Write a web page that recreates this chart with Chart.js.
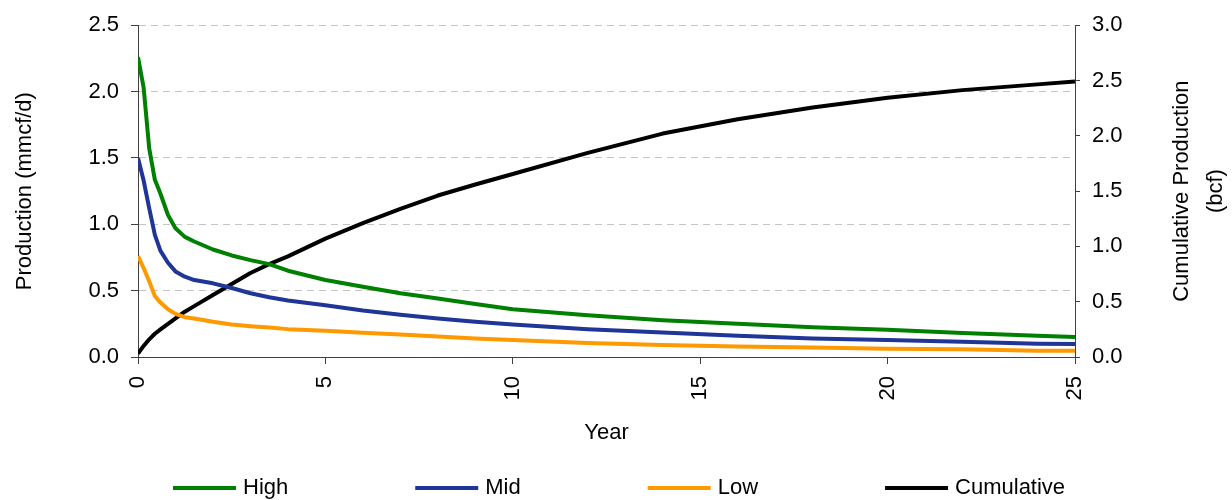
<!DOCTYPE html>
<html>
<head>
<meta charset="utf-8">
<script src="https://cdn.jsdelivr.net/npm/chart.js@4.4.0/dist/chart.umd.min.js"></script>
<style>
    html, body { margin: 0; padding: 0; background: #fff; }
    #wrap { width: 1232px; height: 500px; }
</style>
</head>
<body>
<div id="wrap"><canvas id="chart"></canvas></div>
<script>
// years on the x axis
const years = [0, 0.15, 0.3, 0.45, 0.6, 0.8, 1, 1.25, 1.5, 2, 2.5, 3, 3.5, 4, 5, 6, 7, 8, 9, 10, 12, 14, 16, 18, 20, 22, 24, 25];

// production rates, mmcf/d (left axis)
const high = [2.26, 2.03, 1.57, 1.335, 1.23, 1.07, 0.97, 0.905, 0.87, 0.81, 0.765, 0.73, 0.70, 0.65, 0.58, 0.53, 0.48, 0.44, 0.40, 0.36, 0.315, 0.277, 0.25, 0.225, 0.205, 0.18, 0.16, 0.15];
const mid = [1.50, 1.33, 1.12, 0.92, 0.80, 0.71, 0.645, 0.605, 0.58, 0.555, 0.52, 0.48, 0.45, 0.425, 0.39, 0.35, 0.318, 0.29, 0.265, 0.245, 0.21, 0.185, 0.16, 0.14, 0.128, 0.115, 0.10, 0.098];
const low = [0.76, 0.67, 0.57, 0.46, 0.41, 0.36, 0.325, 0.30, 0.29, 0.265, 0.245, 0.232, 0.222, 0.21, 0.198, 0.182, 0.17, 0.155, 0.14, 0.128, 0.105, 0.09, 0.08, 0.072, 0.062, 0.058, 0.048, 0.047];

// cumulative production, bcf (right axis)
const cumulative = [0.03, 0.10, 0.16, 0.21, 0.25, 0.30, 0.35, 0.41, 0.46, 0.56, 0.66, 0.76, 0.84, 0.91, 1.07, 1.21, 1.34, 1.46, 1.56, 1.655, 1.845, 2.02, 2.15, 2.255, 2.345, 2.413, 2.465, 2.49];

const xTicks = [0, 5, 10, 15, 20, 25];
const leftTicks = [0, 0.5, 1.0, 1.5, 2.0, 2.5];
const rightTicks = [0, 0.5, 1.0, 1.5, 2.0, 2.5, 3.0];

const FONT = 'Liberation Sans, Arial, sans-serif';
const AXIS = '#404040';

function points(values) {
    return years.map((x, i) => ({x: x, y: values[i]}));
}

function series(label, color, values, axis) {
    return {
        label: label,
        data: points(values),
        borderColor: color,
        backgroundColor: color,
        borderWidth: 4,
        pointRadius: 0,
        tension: 0,
        borderJoinStyle: 'round',
        yAxisID: axis,
    };
}

// right axis title reads bottom-to-top like the left one
const rightTitle = {
    id: 'rightTitle',
    afterDraw(chart) {
        const ctx = chart.ctx;
        const area = chart.chartArea;
        const cy = (area.top + area.bottom) / 2;
        ctx.save();
        ctx.fillStyle = '#000';
        ctx.font = '22px ' + FONT;
        ctx.textAlign = 'center';
        ctx.textBaseline = 'middle';
        [['Cumulative Production', 1182], ['(bcf)', 1216]].forEach(([text, x]) => {
            ctx.save();
            ctx.translate(x, cy);
            ctx.rotate(-Math.PI / 2);
            ctx.fillText(text, 0, 0);
            ctx.restore();
        });
        ctx.restore();
    }
};

// legend spread across the bottom
const wideLegend = {
    id: 'wideLegend',
    afterDraw(chart) {
        const ctx = chart.ctx;
        const y = 488;
        let x = 173;
        ctx.save();
        ctx.font = '22px ' + FONT;
        ctx.textBaseline = 'middle';
        ctx.textAlign = 'left';
        chart.data.datasets.forEach(ds => {
            ctx.strokeStyle = ds.borderColor;
            ctx.lineWidth = 4;
            ctx.beginPath();
            ctx.moveTo(x, y);
            ctx.lineTo(x + 63, y);
            ctx.stroke();
            ctx.fillStyle = '#000';
            ctx.fillText(ds.label, x + 70, y);
            x += 70 + ctx.measureText(ds.label).width + 127;
        });
        ctx.restore();
    }
};

const config = {
    type: 'line',
    data: {
        datasets: [
            series('High', '#008000', high, 'yLeft'),
            series('Mid', '#1f3597', mid, 'yLeft'),
            series('Low', '#ff9900', low, 'yLeft'),
            series('Cumulative', '#000000', cumulative, 'yRight'),
        ]
    },
    options: {
        responsive: true,
        maintainAspectRatio: false,
        animation: false,
        layout: {padding: {top: 12, bottom: 54, left: 0, right: 0}},
        plugins: {
            legend: {display: false},
            tooltip: {enabled: false},
        },
        scales: {
            x: {
                type: 'linear',
                min: 0,
                max: 25,
                afterBuildTicks: scale => { scale.ticks = xTicks.map(v => ({value: v})); },
                afterFit: scale => { scale.height = 89; },
                grid: {drawOnChartArea: false, tickLength: 7, tickColor: AXIS},
                border: {color: AXIS, width: 1},
                ticks: {
                    color: '#000',
                    font: {family: FONT, size: 22},
                    minRotation: 90,
                    maxRotation: 90,
                    padding: 12,
                    autoSkip: false,
                },
                title: {
                    display: true,
                    text: 'Year',
                    color: '#000',
                    font: {family: FONT, size: 22},
                    padding: 0,
                },
            },
            yLeft: {
                type: 'linear',
                position: 'left',
                min: 0,
                max: 2.5,
                afterBuildTicks: scale => { scale.ticks = leftTicks.map(v => ({value: v})); },
                afterFit: scale => { scale.width = 138; },
                grid: {
                    color: '#c4c4c4',
                    tickColor: AXIS,
                    tickLength: 7,
                    tickBorderDash: [],
                },
                border: {color: AXIS, width: 1, dash: [7, 5]},
                ticks: {
                    color: '#000',
                    font: {family: FONT, size: 22},
                    padding: 12,
                    callback: v => v.toFixed(1),
                },
                title: {
                    display: true,
                    text: 'Production (mmcf/d)',
                    color: '#000',
                    font: {family: FONT, size: 22},
                    padding: {top: 12, bottom: 0},
                },
            },
            yRight: {
                type: 'linear',
                position: 'right',
                min: 0,
                max: 3,
                afterBuildTicks: scale => { scale.ticks = rightTicks.map(v => ({value: v})); },
                afterFit: scale => { scale.width = 157; },
                grid: {drawOnChartArea: false, tickColor: AXIS, tickLength: 5},
                border: {color: AXIS, width: 1},
                ticks: {
                    color: '#000',
                    font: {family: FONT, size: 22},
                    padding: 12,
                    callback: v => v.toFixed(1),
                },
            },
        }
    },
    plugins: [rightTitle, wideLegend],
};

new Chart(document.getElementById('chart'), config);
</script>
</body>
</html>
